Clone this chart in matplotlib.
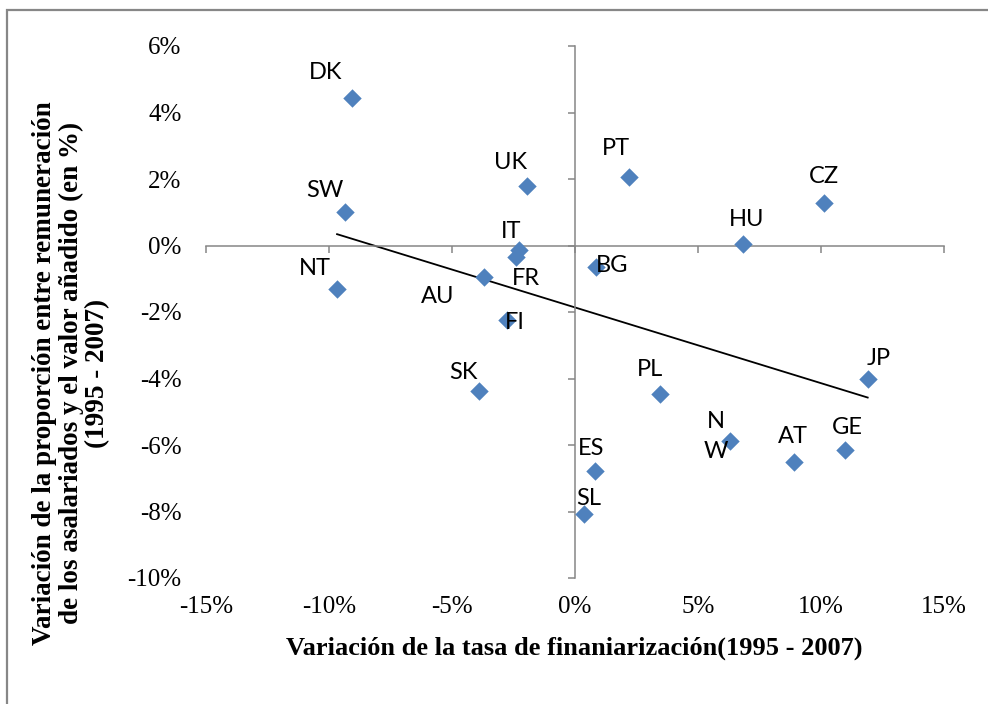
import numpy as np
import matplotlib
matplotlib.use("Agg")
import matplotlib.pyplot as plt
from matplotlib.patches import Rectangle
from matplotlib.ticker import FuncFormatter

# ---- data (values in %) ----
countries = ["DK", "SW", "NT", "UK", "IT", "FR", "AU", "FI", "SK", "PT",
             "BG", "PL", "ES", "SL", "HU", "CZ", "JP", "N\nW", "AT", "GE"]
fin_change = [-9.07, -9.34, -9.66, -1.93, -2.28, -2.37, -3.70, -2.76, -3.88, 2.22,
              0.87, 3.46, 0.81, 0.39, 6.83, 10.15, 11.91, 6.31, 8.93, 11.00]
wage_share_change = [4.44, 1.02, -1.31, 1.80, -0.15, -0.36, -0.94, -2.25, -4.38, 2.06,
                     -0.64, -4.47, -6.78, -8.09, 0.06, 1.29, -4.01, -5.89, -6.51, -6.16]
x_ticks = [-15, -10, -5, 0, 5, 10, 15]
y_ticks = [-10, -8, -6, -4, -2, 0, 2, 4, 6]
x_title = "Variación de la tasa de finaniarización(1995 - 2007)"
y_title = ("Variación de la proporción entre remuneración\n"
           "de los asalariados y el valor añadido (en %)\n"
           "(1995 - 2007)")

# label offsets from the marker (pixels: right, down)
label_offsets_px = [(-26, -25), (-20, -21), (-22, -21), (-17, -23), (-7, -19),
                    (10, 21), (-46, 20), (8, 2), (-16, -19), (-13, -29),
                    (16, -1), (-10, -25), (-4, -22), (4, -16), (4, -24),
                    (0, -26), (11, -20), (-14, -5), (-1, -25), (2, -23)]

# ---- figure ----
fig = plt.figure(figsize=(9.88, 7.04), dpi=100)
fig.patch.set_facecolor("white")

# outer frame (only left/top visible in the crop)
fig.add_artist(Rectangle((7 / 988, -0.1), 1.2, (1 - 10 / 704) + 0.1,
                         transform=fig.transFigure, fill=False,
                         edgecolor="#878787", linewidth=1.6))

rect = [205.7 / 988, (704 - 578) / 704, 738 / 988, 532 / 704]
ax = fig.add_axes(rect)
ax.set_xlim(x_ticks[0], x_ticks[-1])
ax.set_ylim(y_ticks[0], y_ticks[-1])
ax.set_xticks(x_ticks)
ax.set_yticks(y_ticks)
axis_col = "#868686"
for s in ["top", "right"]:
    ax.spines[s].set_visible(False)
ax.spines["left"].set_position(("data", 0))
ax.spines["bottom"].set_position(("data", 0))
for s in ["left", "bottom"]:
    ax.spines[s].set_color(axis_col)
    ax.spines[s].set_linewidth(1.1)
ax.tick_params(direction="out", length=5, width=1.1, color=axis_col,
               labelleft=False, labelbottom=False)
ax.patch.set_visible(False)

# points
ax.scatter(fin_change, wage_share_change, marker="D", s=88, color="#4F81BD",
           linewidths=0, zorder=3)

# linear trend line (least squares)
xs = np.array(fin_change)
ys = np.array(wage_share_change)
b, a = np.polyfit(xs, ys, 1)
xl = np.array([xs.min(), xs.max()])
ax.plot(xl, a + b * xl, color="black", linewidth=1.3, zorder=2)

# data labels
for name, x, y, (dx, dy) in zip(countries, fin_change, wage_share_change, label_offsets_px):
    ax.annotate(name, (x, y), xytext=(dx * 0.72, -dy * 0.72), textcoords="offset points",
                ha="center", va="center", fontsize=17, family="Lato",
                linespacing=1.55, zorder=4)

# overlay axes carrying tick labels at the outer edges
axl = fig.add_axes(rect, sharex=ax, sharey=ax)
axl.patch.set_visible(False)
for s in axl.spines.values():
    s.set_visible(False)
pct = FuncFormatter(lambda v, p: f"{v:.0f}%")
axl.xaxis.set_major_formatter(pct)
axl.yaxis.set_major_formatter(pct)
axl.tick_params(axis="y", length=0, pad=17.5, labelsize=18)
axl.tick_params(axis="x", length=0, pad=13, labelsize=18)
for t in axl.get_xticklabels() + axl.get_yticklabels():
    t.set_family("Liberation Serif")

axl.set_xlabel(x_title, family="Liberation Serif", fontweight="bold", fontsize=19,
               va="center")
axl.xaxis.set_label_coords(0.5, (578 - 648) / 532)
axl.set_ylabel(y_title, family="Liberation Serif", fontweight="bold", fontsize=19.5,
               va="center", ha="center", linespacing=1.08)
axl.yaxis.set_label_coords((71 - 205.7) / 738, (578 - 373) / 532)

fig.savefig("out.png", dpi=100)
